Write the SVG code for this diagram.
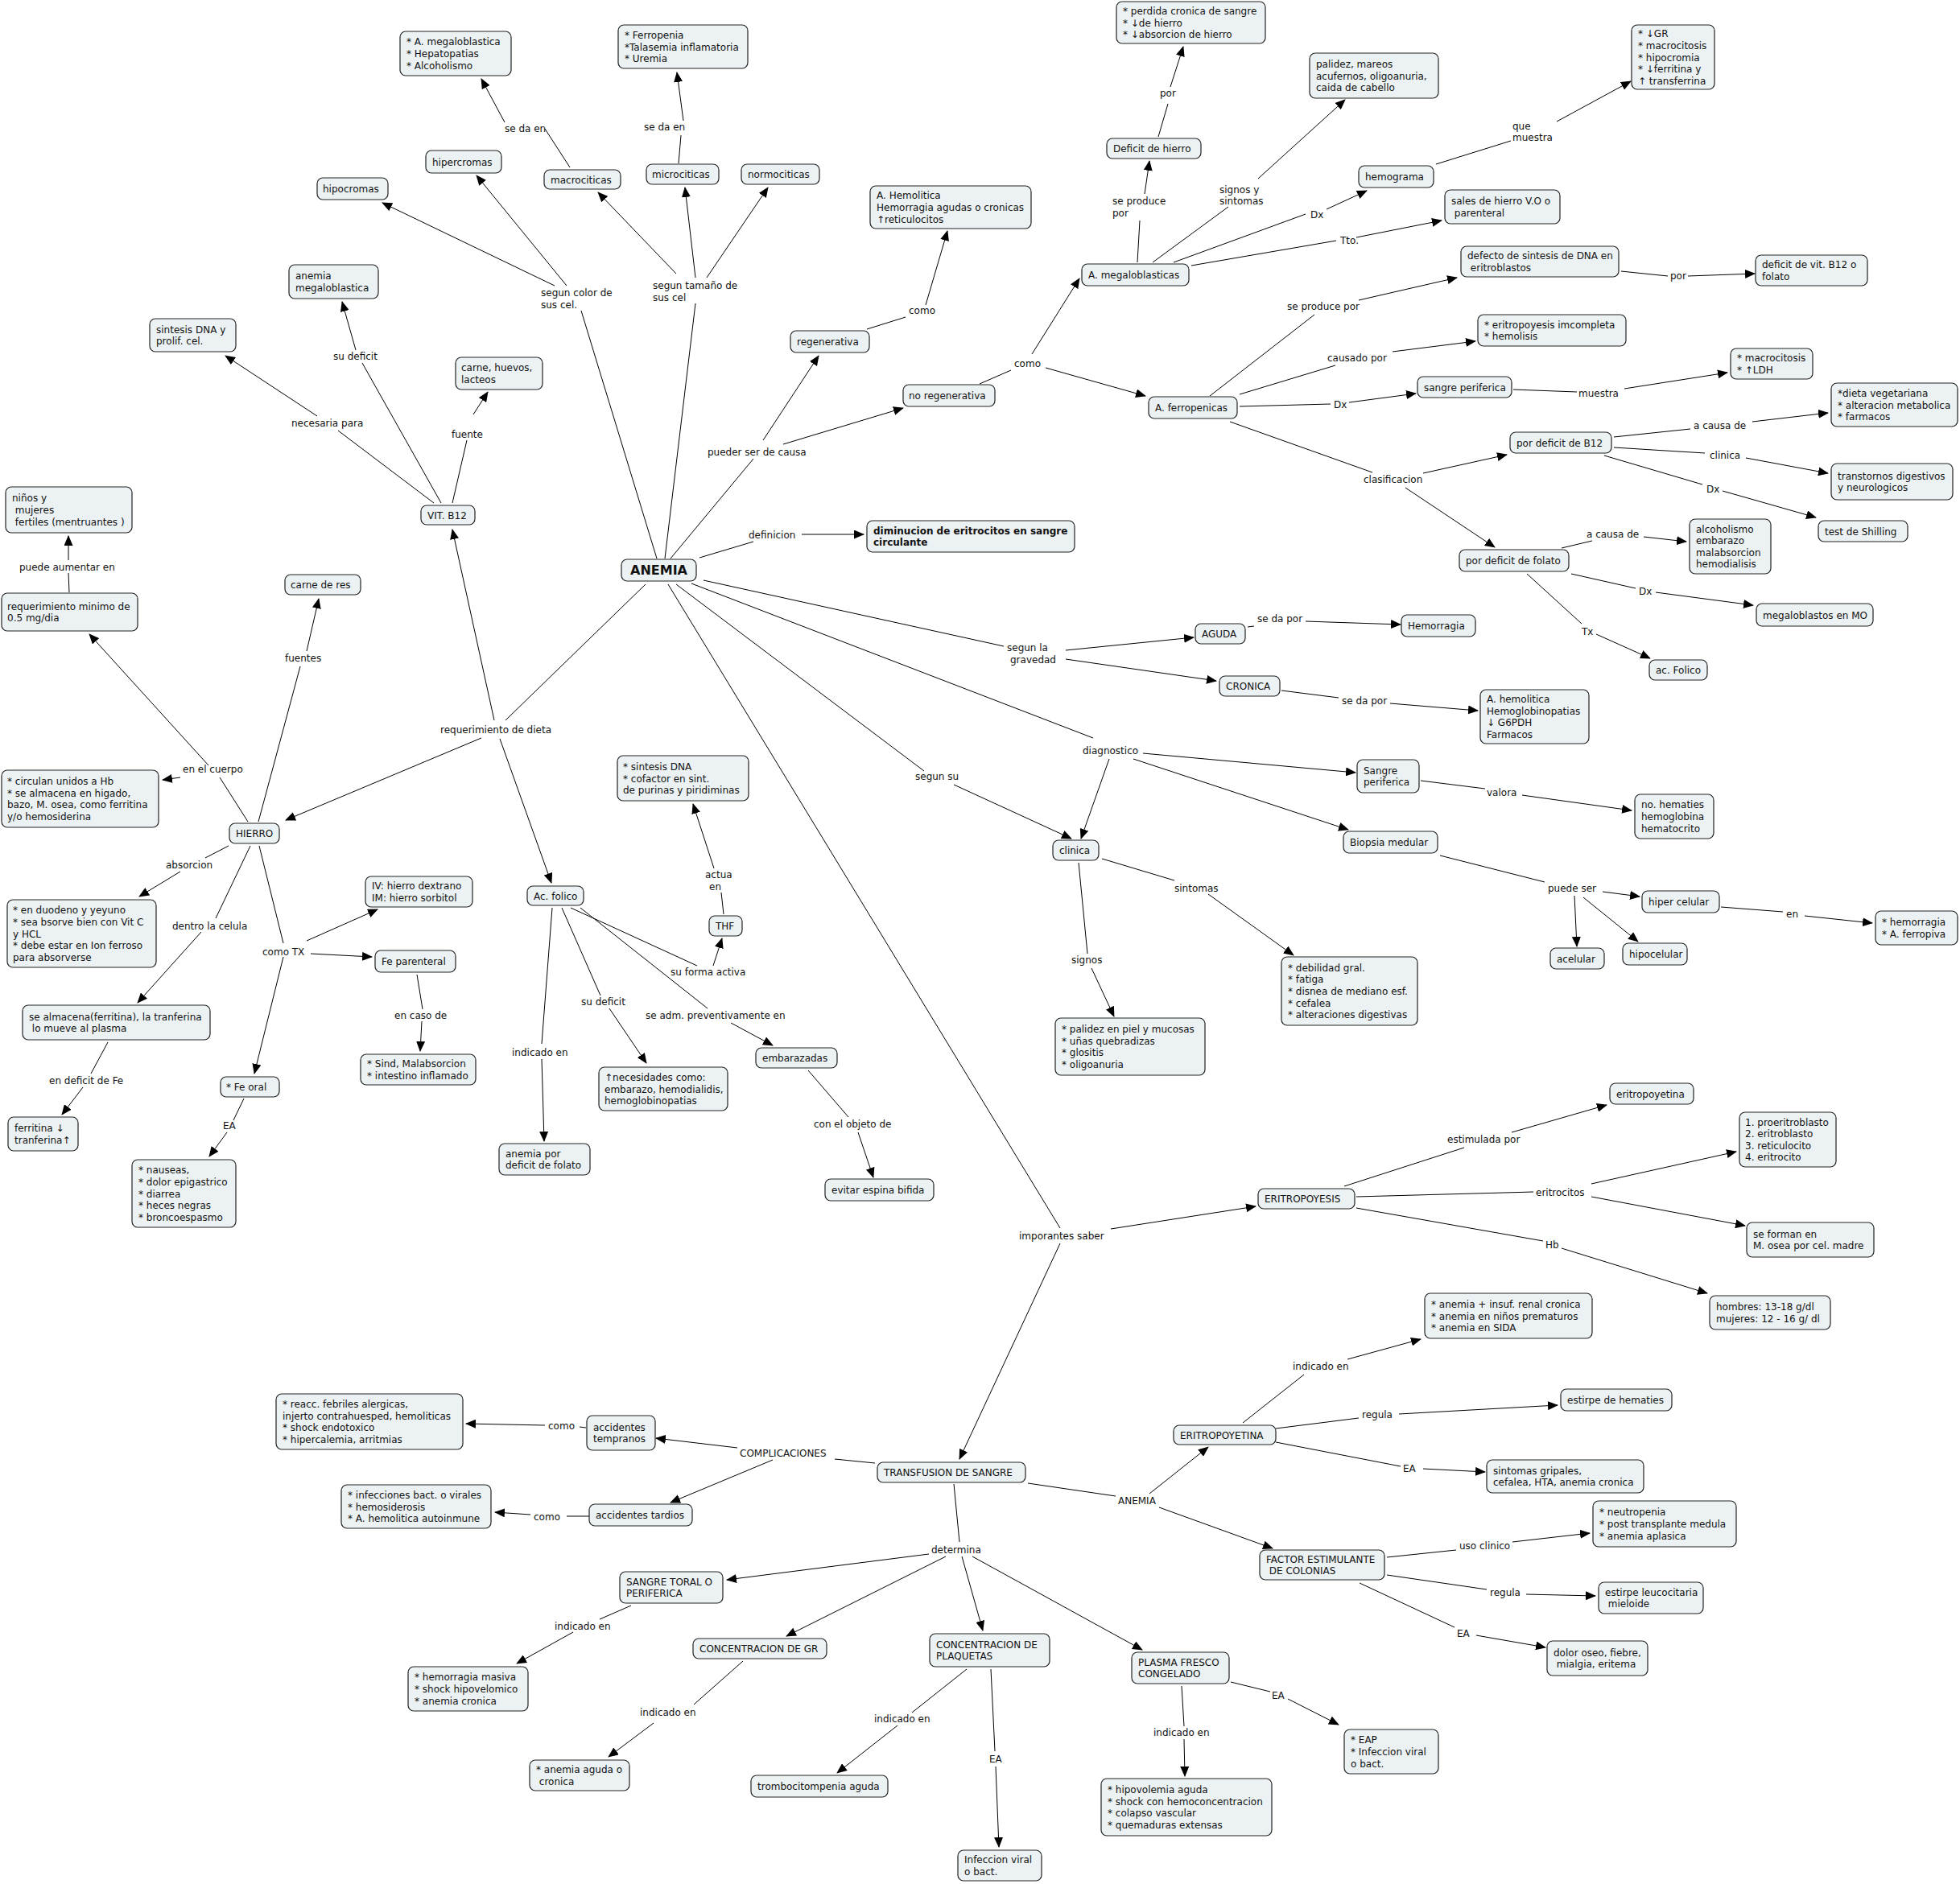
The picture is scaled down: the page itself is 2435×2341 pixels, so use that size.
<svg xmlns="http://www.w3.org/2000/svg" width="2435" height="2341" viewBox="0 0 2435 2341">
<style>
text{font-family:"DejaVu Sans",Verdana,"Liberation Sans",sans-serif;font-size:12px;fill:#111}
.n rect{fill:#ecf2f4;stroke:#222;stroke-width:1.2}
.b{font-weight:bold}
.c path{stroke:#000;stroke-width:1;fill:none}
.c path.a{marker-end:url(#ah)}
</style>
<defs><marker id="ah" markerWidth="13" markerHeight="11" refX="12" refY="5.5" orient="auto" markerUnits="userSpaceOnUse"><path d="M0,0 L13,5.5 L0,11 z" fill="#000"/></marker></defs>
<rect width="2435" height="2341" fill="#fff"/>
<g class="c" id="connectors">
<path d="M816,694 L722,386"/><path class="a" d="M689,355 L475,252"/><path class="a" d="M704,355 L592,218"/>
<path d="M708,208 L677,160"/><path class="a" d="M627,152 L598,98"/>
<path d="M843,203 L846,168"/><path class="a" d="M849,150 L841,90"/>
<path d="M826,694 L864,377"/><path class="a" d="M840,340 L743,239"/><path class="a" d="M864,345 L851,233"/><path class="a" d="M878,345 L954,233"/>
<path d="M833,694 L936,570"/><path class="a" d="M948,547 L1017,442"/><path class="a" d="M973,552 L1122,507"/>
<path d="M1077,409 L1125,394"/><path class="a" d="M1150,379 L1177,287"/>
<path d="M1217,477 L1256,460"/><path class="a" d="M1282,440 L1341,346"/><path class="a" d="M1299,457 L1423,492"/>
<path d="M1413,326 L1416,274"/><path class="a" d="M1422,241 L1428,200"/>
<path d="M1439,170 L1451,129"/><path class="a" d="M1454,108 L1470,58"/>
<path d="M1432,326 L1526,257"/><path class="a" d="M1563,222 L1671,124"/>
<path d="M1458,326 L1622,266"/><path class="a" d="M1648,260 L1698,237"/>
<path d="M1480,330 L1660,299"/><path class="a" d="M1685,295 L1791,274"/>
<path d="M1784,204 L1877,175"/><path class="a" d="M1934,151 L2026,101"/>
<path d="M2014,337 L2072,343"/><path class="a" d="M2097,343 L2180,340"/>
<path d="M1503,492 L1633,391"/><path class="a" d="M1688,373 L1810,345"/>
<path d="M1540,490 L1659,454"/><path class="a" d="M1730,437 L1833,424"/>
<path d="M1540,505 L1653,502"/><path class="a" d="M1676,500 L1759,489"/>
<path d="M1880,484 L1959,487"/><path class="a" d="M2018,483 L2146,463"/>
<path d="M1528,524 L1705,587"/><path class="a" d="M1768,588 L1872,565"/><path class="a" d="M1746,606 L1857,680"/>
<path d="M2005,543 L2100,533"/><path class="a" d="M2177,524 L2271,513"/>
<path d="M2005,556 L2118,563"/><path class="a" d="M2169,569 L2271,588"/>
<path d="M1993,566 L2115,602"/><path class="a" d="M2140,610 L2256,643"/>
<path d="M1940,681 L1978,672"/><path class="a" d="M2042,667 L2095,673"/>
<path d="M1952,713 L2032,731"/><path class="a" d="M2057,736 L2178,752"/>
<path d="M1897,713 L1965,775"/><path class="a" d="M1983,788 L2050,818"/>
<path d="M869,693 L936,673"/><path class="a" d="M996,664 L1073,664"/>
<path d="M874,721 L1247,803"/><path class="a" d="M1324,808 L1483,792"/><path class="a" d="M1324,819 L1511,846"/>
<path d="M1550,779 L1558,778"/><path class="a" d="M1622,772 L1740,776"/>
<path d="M1592,858 L1663,867"/><path class="a" d="M1727,874 L1836,883"/>
<path d="M859,725 L1358,917"/><path class="a" d="M1378,943 L1343,1042"/><path class="a" d="M1420,936 L1684,960"/><path class="a" d="M1408,943 L1675,1031"/>
<path d="M1765,970 L1845,980"/><path class="a" d="M1891,988 L2027,1007"/>
<path d="M1789,1063 L1919,1096"/><path class="a" d="M1991,1108 L2037,1114"/><path class="a" d="M1956,1113 L1959,1176"/><path class="a" d="M1967,1115 L2035,1170"/>
<path d="M2138,1127 L2215,1133"/><path class="a" d="M2242,1138 L2326,1147"/>
<path d="M840,726 L1148,958"/><path class="a" d="M1185,975 L1331,1042"/>
<path d="M1369,1067 L1459,1094"/><path class="a" d="M1501,1111 L1607,1187"/>
<path d="M1340,1072 L1351,1185"/><path class="a" d="M1356,1203 L1384,1263"/>
<path d="M830,726 L1317,1526"/><path class="a" d="M1380,1527 L1560,1499"/><path class="a" d="M1317,1545 L1192,1813"/>
<path d="M1670,1474 L1819,1426"/><path class="a" d="M1878,1407 L1996,1373"/>
<path d="M1685,1487 L1905,1481"/><path class="a" d="M1977,1471 L2157,1431"/><path class="a" d="M1977,1487 L2168,1523"/>
<path d="M1685,1501 L1917,1542"/><path class="a" d="M1940,1551 L2121,1607"/>
<path d="M1277,1843 L1386,1859"/><path class="a" d="M1428,1856 L1501,1798"/><path class="a" d="M1440,1873 L1581,1924"/>
<path d="M1544,1768 L1620,1708"/><path class="a" d="M1674,1689 L1765,1664"/>
<path d="M1585,1775 L1688,1762"/><path class="a" d="M1738,1757 L1935,1746"/>
<path d="M1585,1792 L1740,1822"/><path class="a" d="M1768,1825 L1845,1829"/>
<path d="M1723,1935 L1809,1926"/><path class="a" d="M1879,1916 L1975,1905"/>
<path d="M1723,1957 L1847,1975"/><path class="a" d="M1896,1981 L1982,1983"/>
<path d="M1689,1967 L1807,2022"/><path class="a" d="M1834,2032 L1920,2047"/>
<path d="M1087,1818 L1037,1813"/><path class="a" d="M916,1799 L815,1787"/><path class="a" d="M960,1814 L833,1867"/>
<path d="M728,1774 L720,1773"/><path class="a" d="M677,1771 L579,1769"/>
<path d="M732,1884 L704,1884"/><path class="a" d="M659,1882 L615,1879"/>
<path d="M1185,1844 L1192,1916"/>
<path class="a" d="M1154,1931 L903,1963"/><path class="a" d="M1175,1934 L977,2033"/><path class="a" d="M1195,1934 L1221,2026"/><path class="a" d="M1208,1934 L1419,2050"/>
<path d="M784,1995 L745,2012"/><path class="a" d="M712,2028 L642,2067"/>
<path d="M923,2064 L862,2118"/><path class="a" d="M812,2141 L756,2183"/>
<path d="M1201,2074 L1133,2128"/><path class="a" d="M1115,2144 L1040,2203"/>
<path d="M1231,2074 L1236,2176"/><path class="a" d="M1237,2195 L1241,2295"/>
<path d="M1468,2095 L1471,2145"/><path class="a" d="M1471,2161 L1472,2207"/>
<path d="M1529,2090 L1578,2102"/><path class="a" d="M1600,2111 L1663,2143"/>
<path d="M802,726 L628,895"/><path class="a" d="M598,917 L355,1019"/><path class="a" d="M614,895 L562,658"/><path class="a" d="M621,918 L685,1097"/>
<path d="M539,625 L420,535"/><path class="a" d="M394,517 L280,442"/>
<path d="M548,625 L450,451"/><path class="a" d="M442,435 L425,375"/>
<path d="M562,625 L580,547"/><path class="a" d="M588,515 L606,487"/>
<path d="M308,1021 L273,966"/><path class="a" d="M259,951 L111,788"/><path class="a" d="M224,966 L202,969"/>
<path d="M321,1021 L373,828"/><path class="a" d="M381,809 L396,744"/>
<path d="M86,736 L85,712"/><path class="a" d="M85,696 L85,666"/>
<path d="M284,1051 L255,1066"/><path class="a" d="M224,1083 L173,1114"/>
<path d="M311,1051 L268,1141"/><path class="a" d="M250,1158 L171,1246"/>
<path d="M322,1051 L352,1172"/><path class="a" d="M386,1185 L462,1189"/><path class="a" d="M352,1189 L316,1334"/><path class="a" d="M381,1169 L469,1130"/>
<path d="M134,1295 L113,1334"/><path class="a" d="M103,1351 L77,1385"/>
<path d="M303,1365 L290,1392"/><path class="a" d="M282,1407 L260,1437"/>
<path d="M518,1211 L525,1254"/><path class="a" d="M524,1269 L522,1306"/>
<path d="M686,1128 L673,1297"/><path class="a" d="M673,1316 L676,1418"/>
<path d="M698,1128 L746,1237"/><path class="a" d="M757,1253 L803,1321"/>
<path d="M709,1128 L866,1200"/><path class="a" d="M886,1200 L897,1166"/>
<path d="M721,1128 L879,1253"/><path class="a" d="M908,1271 L960,1299"/>
<path d="M899,1136 L896,1109"/><path class="a" d="M887,1079 L861,999"/>
<path d="M1004,1330 L1054,1388"/><path class="a" d="M1066,1407 L1085,1463"/>
</g>
<g id="labels">
<text x="627" y="164">se da en</text>
<text x="800" y="162">se da en</text>
<text x="672" y="368">segun color de</text><text x="672" y="383">sus cel.</text>
<text x="811" y="359">segun tamaño de</text><text x="811" y="374">sus cel</text>
<text x="414" y="447">su deficit</text>
<text x="362" y="530">necesaria para</text>
<text x="561" y="544">fuente</text>
<text x="1129" y="390">como</text>
<text x="879" y="566">pueder ser de causa</text>
<text x="1260" y="456">como</text>
<text x="1441" y="120">por</text>
<text x="1382" y="254">se produce</text><text x="1382" y="269">por</text>
<text x="1515" y="240">signos y</text><text x="1515" y="254">sintomas</text>
<text x="1879" y="161">que</text><text x="1879" y="175"> muestra</text>
<text x="1628" y="271">Dx</text>
<text x="1665" y="303">Tto.</text>
<text x="2075" y="347">por</text>
<text x="1599" y="385">se produce por</text>
<text x="1649" y="449">causado por</text>
<text x="1657" y="507">Dx</text>
<text x="1961" y="493">muestra</text>
<text x="2104" y="533">a causa de</text>
<text x="2124" y="570">clinica</text>
<text x="1694" y="600">clasificacion</text>
<text x="2120" y="612">Dx</text>
<text x="1971" y="668">a causa de</text>
<text x="2036" y="739">Dx</text>
<text x="1965" y="789">Tx</text>
<text x="1562" y="773">se da por</text>
<text x="1667" y="875">se da por</text>
<text x="1847" y="989">valora</text>
<text x="1923" y="1108">puede ser</text>
<text x="2219" y="1140">en</text>
<text x="930" y="669">definicion</text>
<text x="1251" y="809">segun la</text><text x="1255" y="824">gravedad</text>
<text x="1345" y="937">diagnostico</text>
<text x="1137" y="969">segun su</text>
<text x="1459" y="1108">sintomas</text>
<text x="876" y="1091">actua</text><text x="881" y="1106">en</text>
<text x="24" y="709">puede aumentar en</text>
<text x="354" y="822">fuentes</text>
<text x="547" y="911">requerimiento de dieta</text>
<text x="227" y="960">en el cuerpo</text>
<text x="206" y="1079">absorcion</text>
<text x="214" y="1155">dentro la celula</text>
<text x="326" y="1187">como TX</text>
<text x="61" y="1347">en deficit de Fe</text>
<text x="277" y="1403">EA</text>
<text x="490" y="1266">en caso de</text>
<text x="636" y="1312">indicado en</text>
<text x="722" y="1249">su deficit</text>
<text x="833" y="1212">su forma activa</text>
<text x="802" y="1266">se adm. preventivamente en</text>
<text x="1011" y="1401">con el objeto de</text>
<text x="1331" y="1197">signos</text>
<text x="1266" y="1540">imporantes saber</text>
<text x="1798" y="1420">estimulada por</text>
<text x="1908" y="1486">eritrocitos</text>
<text x="1920" y="1551">Hb</text>
<text x="1606" y="1702">indicado en</text>
<text x="1692" y="1762">regula</text>
<text x="1743" y="1829">EA</text>
<text x="1813" y="1925">uso clinico</text>
<text x="1851" y="1983">regula</text>
<text x="1810" y="2034">EA</text>
<text x="1389" y="1869">ANEMIA</text>
<text x="919" y="1810">COMPLICACIONES</text>
<text x="1157" y="1930">determina</text>
<text x="795" y="2132">indicado en</text>
<text x="689" y="2025">indicado en</text>
<text x="663" y="1889">como</text>
<text x="681" y="1776">como</text>
<text x="1086" y="2140">indicado en</text>
<text x="1229" y="2190">EA</text>
<text x="1433" y="2157">indicado en</text>
<text x="1580" y="2111">EA</text>
</g>
<g id="n1" class="n"><rect x="497" y="39" width="138" height="55" rx="7"/><text x="505" y="56.4">* A. megaloblastica<tspan x="505" dy="14.6">* Hepatopatias</tspan><tspan x="505" dy="14.6">* Alcoholismo</tspan></text></g>
<g id="n2" class="n"><rect x="768" y="31" width="161" height="54" rx="7"/><text x="776" y="47.9">* Ferropenia<tspan x="776" dy="14.6">*Talasemia inflamatoria</tspan><tspan x="776" dy="14.6">* Uremia</tspan></text></g>
<g id="n3" class="n"><rect x="529" y="187" width="94" height="28" rx="7"/><text x="537" y="205.5">hipercromas</text></g>
<g id="n4" class="n"><rect x="676" y="211" width="95" height="24" rx="7"/><text x="684" y="227.5">macrociticas</text></g>
<g id="n5" class="n"><rect x="394" y="221" width="88" height="27" rx="7"/><text x="401" y="239">hipocromas</text></g>
<g id="n6" class="n"><rect x="803" y="204" width="90" height="25" rx="7"/><text x="810" y="221">microciticas</text></g>
<g id="n7" class="n"><rect x="921" y="204" width="97" height="25" rx="7"/><text x="929" y="221">normociticas</text></g>
<g id="n8" class="n"><rect x="359" y="329" width="111" height="42" rx="7"/><text x="367" y="347">anemia<tspan x="367" dy="14.6">megaloblastica</tspan></text></g>
<g id="n9" class="n"><rect x="186" y="396" width="107" height="41" rx="7"/><text x="194" y="413.7">sintesis DNA y<tspan x="194" dy="14.6">prolif. cel.</tspan></text></g>
<g id="n10" class="n"><rect x="566" y="444" width="108" height="40" rx="7"/><text x="573" y="461.2">carne, huevos,<tspan x="573" dy="14.6">lacteos</tspan></text></g>
<g id="n11" class="n"><rect x="1081" y="231" width="200" height="53" rx="7"/><text x="1089" y="247.4">A. Hemolitica<tspan x="1089" dy="14.6">Hemorragia agudas o cronicas</tspan><tspan x="1089" dy="14.6">↑reticulocitos</tspan></text></g>
<g id="n12" class="n"><rect x="982" y="411" width="98" height="27" rx="7"/><text x="990" y="429">regenerativa</text></g>
<g id="n13" class="n"><rect x="1122" y="478" width="114" height="27" rx="7"/><text x="1129" y="496">no regenerativa</text></g>
<g id="n14" class="n"><rect x="1344" y="328" width="133" height="27" rx="7"/><text x="1352" y="346">A. megaloblasticas</text></g>
<g id="n15" class="n"><rect x="1427" y="493" width="110" height="27" rx="7"/><text x="1435" y="511">A. ferropenicas</text></g>
<g id="n16" class="n"><rect x="1375" y="172" width="117" height="25" rx="7"/><text x="1383" y="189">Deficit de hierro</text></g>
<g id="n17" class="n"><rect x="1387" y="2" width="185" height="52" rx="7"/><text x="1395" y="17.9">* perdida cronica de sangre<tspan x="1395" dy="14.6">* ↓de hierro</tspan><tspan x="1395" dy="14.6">* ↓absorcion de hierro</tspan></text></g>
<g id="n18" class="n"><rect x="1627" y="66" width="160" height="56" rx="7"/><text x="1635" y="83.9">palidez, mareos<tspan x="1635" dy="14.6">acufernos, oligoanuria,</tspan><tspan x="1635" dy="14.6">caida de cabello</tspan></text></g>
<g id="n19" class="n"><rect x="1688" y="206" width="93" height="27" rx="7"/><text x="1696" y="224">hemograma</text></g>
<g id="n20" class="n"><rect x="2027" y="31" width="103" height="80" rx="7"/><text x="2035" y="46.3">* ↓GR<tspan x="2035" dy="14.6">* macrocitosis</tspan><tspan x="2035" dy="14.6">* hipocromia</tspan><tspan x="2035" dy="14.6">* ↓ferritina y</tspan><tspan x="2035" dy="14.6">↑ transferrina</tspan></text></g>
<g id="n21" class="n"><rect x="1795" y="236" width="143" height="42" rx="7"/><text x="1803" y="254.2">sales de hierro V.O o<tspan x="1803" dy="14.6"> parenteral</tspan></text></g>
<g id="n22" class="n"><rect x="1815" y="306" width="196" height="38" rx="7"/><text x="1823" y="322.2">defecto de sintesis de DNA en<tspan x="1823" dy="14.6"> eritroblastos</tspan></text></g>
<g id="n23" class="n"><rect x="2181" y="317" width="139" height="38" rx="7"/><text x="2189" y="333.2">deficit de vit. B12 o<tspan x="2189" dy="14.6">folato</tspan></text></g>
<g id="n24" class="n"><rect x="1836" y="391" width="184" height="39" rx="7"/><text x="1844" y="407.7">* eritropoyesis imcompleta<tspan x="1844" dy="14.6">* hemolisis</tspan></text></g>
<g id="n25" class="n"><rect x="1761" y="468" width="117" height="26" rx="7"/><text x="1769" y="485.5">sangre periferica</text></g>
<g id="n26" class="n"><rect x="2150" y="433" width="102" height="38" rx="7"/><text x="2158" y="449.2">* macrocitosis<tspan x="2158" dy="14.6">* ↑LDH</tspan></text></g>
<g id="n27" class="n"><rect x="2275" y="476" width="157" height="54" rx="7"/><text x="2283" y="492.9">*dieta vegetariana<tspan x="2283" dy="14.6">* alteracion metabolica</tspan><tspan x="2283" dy="14.6">* farmacos</tspan></text></g>
<g id="n28" class="n"><rect x="1876" y="537" width="126" height="26" rx="7"/><text x="1884" y="554.5">por deficit de B12</text></g>
<g id="n29" class="n"><rect x="2275" y="576" width="151" height="45" rx="7"/><text x="2283" y="595.7">transtornos digestivos<tspan x="2283" dy="14.6">y neurologicos</tspan></text></g>
<g id="n30" class="n"><rect x="2259" y="647" width="111" height="26" rx="7"/><text x="2267" y="664.5">test de Shilling</text></g>
<g id="n31" class="n"><rect x="1813" y="683" width="136" height="27" rx="7"/><text x="1821" y="701">por deficit de folato</text></g>
<g id="n32" class="n"><rect x="2099" y="645" width="101" height="68" rx="7"/><text x="2107" y="661.6">alcoholismo<tspan x="2107" dy="14.6">embarazo</tspan><tspan x="2107" dy="14.6">malabsorcion</tspan><tspan x="2107" dy="14.6">hemodialisis</tspan></text></g>
<g id="n33" class="n"><rect x="2182" y="750" width="145" height="28" rx="7"/><text x="2190" y="768.5">megaloblastos en MO</text></g>
<g id="n34" class="n"><rect x="2049" y="820" width="72" height="25" rx="7"/><text x="2057" y="837">ac. Folico</text></g>
<g id="n35" class="n"><rect x="1741" y="764" width="92" height="27" rx="7"/><text x="1749" y="782">Hemorragia</text></g>
<g id="n36" class="n"><rect x="1839" y="857" width="135" height="67" rx="7"/><text x="1847" y="873.1">A. hemolitica<tspan x="1847" dy="14.6">Hemoglobinopatias</tspan><tspan x="1847" dy="14.6">↓ G6PDH</tspan><tspan x="1847" dy="14.6">Farmacos</tspan></text></g>
<g id="n37" class="n"><rect x="1686" y="944" width="77" height="41" rx="7"/><text x="1694" y="961.7">Sangre<tspan x="1694" dy="14.6">periferica</tspan></text></g>
<g id="n38" class="n"><rect x="2031" y="987" width="98" height="55" rx="7"/><text x="2039" y="1004.4">no. hematies<tspan x="2039" dy="14.6">hemoglobina</tspan><tspan x="2039" dy="14.6">hematocrito</tspan></text></g>
<g id="n39" class="n"><rect x="1669" y="1033" width="117" height="27" rx="7"/><text x="1677" y="1051">Biopsia medular</text></g>
<g id="n40" class="n"><rect x="2040" y="1107" width="96" height="27" rx="7"/><text x="2048" y="1125">hiper celular</text></g>
<g id="n41" class="n"><rect x="2330" y="1132" width="102" height="42" rx="7"/><text x="2338" y="1150.2">* hemorragia<tspan x="2338" dy="14.6">* A. ferropiva</tspan></text></g>
<g id="n42" class="n"><rect x="1926" y="1178" width="67" height="26" rx="7"/><text x="1934" y="1195.5">acelular</text></g>
<g id="n43" class="n"><rect x="2016" y="1172" width="80" height="27" rx="7"/><text x="2024" y="1190">hipocelular</text></g>
<g id="n44" class="n"><rect x="772" y="695" width="93" height="27" rx="7"/><text x="818.5" y="714" class="b" font-size="16" text-anchor="middle" style="font-size:16px">ANEMIA</text></g>
<g id="n45" class="n"><rect x="1077" y="647" width="258" height="39" rx="7"/><text x="1085" y="663.7" class="b">diminucion de eritrocitos en sangre<tspan x="1085" dy="14.6">circulante</tspan></text></g>
<g id="n46" class="n"><rect x="1485" y="775" width="62" height="25" rx="7"/><text x="1493" y="792">AGUDA</text></g>
<g id="n47" class="n"><rect x="1515" y="840" width="75" height="25" rx="7"/><text x="1523" y="857">CRONICA</text></g>
<g id="n48" class="n"><rect x="1308" y="1044" width="57" height="25" rx="7"/><text x="1316" y="1061">clinica</text></g>
<g id="n49" class="n"><rect x="881" y="1138" width="41" height="25" rx="7"/><text x="889" y="1155">THF</text></g>
<g id="n50" class="n"><rect x="767" y="939" width="163" height="56" rx="7"/><text x="774" y="956.9">* sintesis DNA<tspan x="774" dy="14.6">* cofactor en sint.</tspan><tspan x="774" dy="14.6">de purinas y piridiminas</tspan></text></g>
<g id="n51" class="n"><rect x="7" y="605" width="157" height="57" rx="7"/><text x="15" y="623.4">niños y<tspan x="15" dy="14.6"> mujeres</tspan><tspan x="15" dy="14.6"> fertiles (mentruantes )</tspan></text></g>
<g id="n52" class="n"><rect x="2" y="737" width="169" height="47" rx="7"/><text x="9" y="757.7">requerimiento minimo de<tspan x="9" dy="14.6">0.5 mg/dia</tspan></text></g>
<g id="n53" class="n"><rect x="354" y="714" width="94" height="25" rx="7"/><text x="361" y="731">carne de res</text></g>
<g id="n54" class="n"><rect x="523" y="628" width="67" height="24" rx="7"/><text x="531" y="644.5">VIT. B12</text></g>
<g id="n55" class="n"><rect x="2" y="957" width="195" height="71" rx="7"/><text x="9" y="975.1">* circulan unidos a Hb<tspan x="9" dy="14.6">* se almacena en higado,</tspan><tspan x="9" dy="14.6">bazo, M. osea, como ferritina</tspan><tspan x="9" dy="14.6">y/o hemosiderina</tspan></text></g>
<g id="n56" class="n"><rect x="285" y="1023" width="62" height="25" rx="7"/><text x="293" y="1040">HIERRO</text></g>
<g id="n57" class="n"><rect x="9" y="1118" width="185" height="84" rx="7"/><text x="16" y="1135.3">* en duodeno y yeyuno<tspan x="16" dy="14.6">* sea bsorve bien con Vit C</tspan><tspan x="16" dy="14.6">y HCL</tspan><tspan x="16" dy="14.6">* debe estar en Ion ferroso</tspan><tspan x="16" dy="14.6">para absorverse</tspan></text></g>
<g id="n58" class="n"><rect x="655" y="1101" width="70" height="24" rx="7"/><text x="663" y="1117.5">Ac. folico</text></g>
<g id="n59" class="n"><rect x="454" y="1089" width="133" height="38" rx="7"/><text x="462" y="1105.2">IV: hierro dextrano<tspan x="462" dy="14.6">IM: hierro sorbitol</tspan></text></g>
<g id="n60" class="n"><rect x="466" y="1181" width="100" height="27" rx="7"/><text x="474" y="1199">Fe parenteral</text></g>
<g id="n61" class="n"><rect x="28" y="1249" width="233" height="43" rx="7"/><text x="36" y="1267.7">se almacena(ferritina), la tranferina<tspan x="36" dy="14.6"> lo mueve al plasma</tspan></text></g>
<g id="n62" class="n"><rect x="10" y="1388" width="87" height="42" rx="7"/><text x="18" y="1406.2">ferritina ↓<tspan x="18" dy="14.6">tranferina↑</tspan></text></g>
<g id="n63" class="n"><rect x="274" y="1338" width="73" height="25" rx="7"/><text x="281" y="1355">* Fe oral</text></g>
<g id="n64" class="n"><rect x="164" y="1441" width="129" height="84" rx="7"/><text x="172" y="1458.3">* nauseas,<tspan x="172" dy="14.6">* dolor epigastrico</tspan><tspan x="172" dy="14.6">* diarrea</tspan><tspan x="172" dy="14.6">* heces negras</tspan><tspan x="172" dy="14.6">* broncoespasmo</tspan></text></g>
<g id="n65" class="n"><rect x="448" y="1310" width="143" height="38" rx="7"/><text x="456" y="1326.2">* Sind, Malabsorcion<tspan x="456" dy="14.6">* intestino inflamado</tspan></text></g>
<g id="n66" class="n"><rect x="620" y="1421" width="113" height="39" rx="7"/><text x="628" y="1437.7">anemia por<tspan x="628" dy="14.6">deficit de folato</tspan></text></g>
<g id="n67" class="n"><rect x="744" y="1326" width="160" height="54" rx="7"/><text x="751" y="1342.9">↑necesidades como:<tspan x="751" dy="14.6">embarazo, hemodialidis,</tspan><tspan x="751" dy="14.6">hemoglobinopatias</tspan></text></g>
<g id="n68" class="n"><rect x="939" y="1302" width="101" height="25" rx="7"/><text x="947" y="1319">embarazadas</text></g>
<g id="n69" class="n"><rect x="1025" y="1465" width="135" height="27" rx="7"/><text x="1033" y="1483">evitar espina bifida</text></g>
<g id="n70" class="n"><rect x="1311" y="1265" width="186" height="71" rx="7"/><text x="1319" y="1283.1">* palidez en piel y mucosas<tspan x="1319" dy="14.6">* uñas quebradizas</tspan><tspan x="1319" dy="14.6">* glositis</tspan><tspan x="1319" dy="14.6">* oligoanuria</tspan></text></g>
<g id="n71" class="n"><rect x="1592" y="1189" width="169" height="85" rx="7"/><text x="1600" y="1206.8">* debilidad gral.<tspan x="1600" dy="14.6">* fatiga</tspan><tspan x="1600" dy="14.6">* disnea de mediano esf.</tspan><tspan x="1600" dy="14.6">* cefalea</tspan><tspan x="1600" dy="14.6">* alteraciones digestivas</tspan></text></g>
<g id="n72" class="n"><rect x="1563" y="1477" width="120" height="25" rx="7"/><text x="1571" y="1494">ERITROPOYESIS</text></g>
<g id="n73" class="n"><rect x="2000" y="1346" width="104" height="26" rx="7"/><text x="2008" y="1363.5">eritropoyetina</text></g>
<g id="n74" class="n"><rect x="2161" y="1382" width="120" height="68" rx="7"/><text x="2168" y="1398.6">1. proeritroblasto<tspan x="2168" dy="14.6">2. eritroblasto</tspan><tspan x="2168" dy="14.6">3. reticulocito</tspan><tspan x="2168" dy="14.6">4. eritrocito</tspan></text></g>
<g id="n75" class="n"><rect x="2170" y="1519" width="158" height="43" rx="7"/><text x="2178" y="1537.7">se forman en<tspan x="2178" dy="14.6">M. osea por cel. madre</tspan></text></g>
<g id="n76" class="n"><rect x="2124" y="1610" width="150" height="42" rx="7"/><text x="2132" y="1628.2">hombres: 13-18 g/dl<tspan x="2132" dy="14.6">mujeres: 12 - 16 g/ dl</tspan></text></g>
<g id="n77" class="n"><rect x="1770" y="1607" width="208" height="56" rx="7"/><text x="1778" y="1624.9">* anemia + insuf. renal cronica<tspan x="1778" dy="14.6">* anemia en niños prematuros</tspan><tspan x="1778" dy="14.6">* anemia en SIDA</tspan></text></g>
<g id="n78" class="n"><rect x="1939" y="1726" width="138" height="27" rx="7"/><text x="1947" y="1744">estirpe de hematies</text></g>
<g id="n79" class="n"><rect x="1847" y="1814" width="195" height="41" rx="7"/><text x="1855" y="1831.7">sintomas gripales,<tspan x="1855" dy="14.6">cefalea, HTA, anemia cronica</tspan></text></g>
<g id="n80" class="n"><rect x="1979" y="1865" width="178" height="57" rx="7"/><text x="1987" y="1883.4">* neutropenia<tspan x="1987" dy="14.6">* post transplante medula</tspan><tspan x="1987" dy="14.6">* anemia aplasica</tspan></text></g>
<g id="n81" class="n"><rect x="1565" y="1926" width="155" height="37" rx="7"/><text x="1573" y="1941.7">FACTOR ESTIMULANTE<tspan x="1573" dy="14.6"> DE COLONIAS</tspan></text></g>
<g id="n82" class="n"><rect x="1986" y="1966" width="130" height="39" rx="7"/><text x="1994" y="1982.7">estirpe leucocitaria<tspan x="1994" dy="14.6"> mieloide</tspan></text></g>
<g id="n83" class="n"><rect x="1922" y="2039" width="125" height="43" rx="7"/><text x="1930" y="2057.7">dolor oseo, fiebre,<tspan x="1930" dy="14.6"> mialgia, eritema</tspan></text></g>
<g id="n84" class="n"><rect x="1670" y="2149" width="117" height="55" rx="7"/><text x="1678" y="2166.4">* EAP<tspan x="1678" dy="14.6">* Infeccion viral</tspan><tspan x="1678" dy="14.6">o bact.</tspan></text></g>
<g id="n85" class="n"><rect x="1458" y="1771" width="127" height="24" rx="7"/><text x="1466" y="1787.5">ERITROPOYETINA</text></g>
<g id="n86" class="n"><rect x="1090" y="1817" width="184" height="25" rx="7"/><text x="1098" y="1834">TRANSFUSION DE SANGRE</text></g>
<g id="n87" class="n"><rect x="732" y="1869" width="128" height="27" rx="7"/><text x="740" y="1887">accidentes tardios</text></g>
<g id="n88" class="n"><rect x="729" y="1759" width="85" height="43" rx="7"/><text x="737" y="1777.7">accidentes<tspan x="737" dy="14.6">tempranos</tspan></text></g>
<g id="n89" class="n"><rect x="770" y="1953" width="128" height="39" rx="7"/><text x="778" y="1969.7">SANGRE TORAL O<tspan x="778" dy="14.6">PERIFERICA</tspan></text></g>
<g id="n90" class="n"><rect x="861" y="2036" width="166" height="25" rx="7"/><text x="869" y="2053">CONCENTRACION DE GR</text></g>
<g id="n91" class="n"><rect x="1155" y="2030" width="149" height="41" rx="7"/><text x="1163" y="2047.7">CONCENTRACION DE<tspan x="1163" dy="14.6">PLAQUETAS</tspan></text></g>
<g id="n92" class="n"><rect x="1406" y="2053" width="121" height="39" rx="7"/><text x="1414" y="2069.7">PLASMA FRESCO<tspan x="1414" dy="14.6">CONGELADO</tspan></text></g>
<g id="n93" class="n"><rect x="658" y="2187" width="124" height="38" rx="7"/><text x="666" y="2203.2">* anemia aguda o<tspan x="666" dy="14.6"> cronica</tspan></text></g>
<g id="n94" class="n"><rect x="507" y="2071" width="149" height="55" rx="7"/><text x="515" y="2088.4">* hemorragia masiva<tspan x="515" dy="14.6">* shock hipovelomico</tspan><tspan x="515" dy="14.6">* anemia cronica</tspan></text></g>
<g id="n95" class="n"><rect x="424" y="1845" width="186" height="54" rx="7"/><text x="432" y="1861.9">* infecciones bact. o virales<tspan x="432" dy="14.6">* hemosiderosis</tspan><tspan x="432" dy="14.6">* A. hemolitica autoinmune</tspan></text></g>
<g id="n96" class="n"><rect x="343" y="1732" width="232" height="69" rx="7"/><text x="351" y="1749.1">* reacc. febriles alergicas,<tspan x="351" dy="14.6">injerto contrahuesped, hemoliticas</tspan><tspan x="351" dy="14.6">* shock endotoxico</tspan><tspan x="351" dy="14.6">* hipercalemia, arritmias</tspan></text></g>
<g id="n97" class="n"><rect x="933" y="2206" width="170" height="27" rx="7"/><text x="941" y="2224">trombocitompenia aguda</text></g>
<g id="n98" class="n"><rect x="1190" y="2299" width="104" height="38" rx="7"/><text x="1198" y="2315.2">Infeccion viral<tspan x="1198" dy="14.6">o bact.</tspan></text></g>
<g id="n99" class="n"><rect x="1368" y="2210" width="212" height="71" rx="7"/><text x="1376" y="2228.1">* hipovolemia aguda<tspan x="1376" dy="14.6">* shock con hemoconcentracion</tspan><tspan x="1376" dy="14.6">* colapso vascular</tspan><tspan x="1376" dy="14.6">* quemaduras extensas</tspan></text></g>
</svg>
